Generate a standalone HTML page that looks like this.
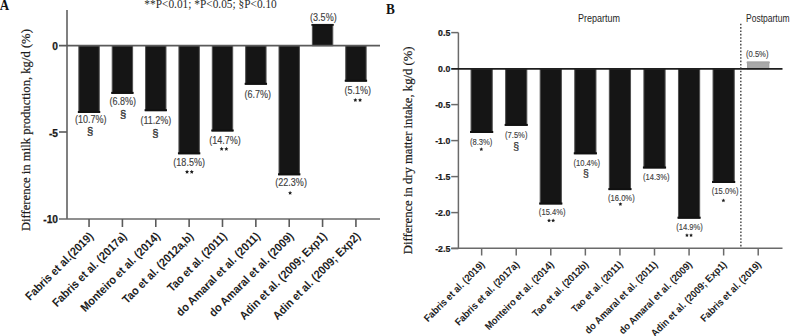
<!DOCTYPE html><html><head><meta charset="utf-8"><style>html,body{margin:0;padding:0;background:#fff;width:792px;height:336px;overflow:hidden}svg{display:block}.s{font-family:"Liberation Sans",sans-serif}.r{font-family:"Liberation Serif",serif}.b{font-weight:bold}</style></head><body>
<svg width="792" height="336" viewBox="0 0 792 336">
<text transform="translate(-0.2,9.6) scale(1,1.12)" class="r b" font-size="13" fill="#111">A</text>
<text transform="translate(144.3,8.2) scale(1,1.12)" x="0" y="0" class="r" font-size="11.4" textLength="132.5" lengthAdjust="spacingAndGlyphs" fill="#2a2a2a">**P&lt;0.01; *P&lt;0.05; §P&lt;0.10</text>
<text transform="translate(30,231.1) rotate(-90)" class="r" font-size="12.65" fill="#1a1a1a" stroke="#1a1a1a" stroke-width="0.2">Difference in milk production, kg/d (%)</text>
<rect x="78.85" y="45.70" width="20.4" height="66.80" fill="#151515" stroke="#505050" stroke-width="1"/><line x1="77.85" y1="112.00" x2="100.25" y2="112.00" stroke="#111" stroke-width="2"/>
<text transform="translate(90.65,123.10) scale(0.97,1.08)" text-anchor="middle" class="s" font-size="9.3" fill="#404040" stroke="#404040" stroke-width="0.12">(10.7%)</text>
<text x="90.05" y="135.40" text-anchor="middle" class="s" font-size="11.3" fill="#333" stroke="#333" stroke-width="0.3">§</text>
<rect x="112.21" y="45.70" width="20.4" height="47.70" fill="#151515" stroke="#505050" stroke-width="1"/><line x1="111.21" y1="92.90" x2="133.61" y2="92.90" stroke="#111" stroke-width="2"/>
<text transform="translate(122.81,105.40) scale(0.97,1.08)" text-anchor="middle" class="s" font-size="9.3" fill="#404040" stroke="#404040" stroke-width="0.12">(6.8%)</text>
<text x="123.11" y="117.50" text-anchor="middle" class="s" font-size="11.3" fill="#333" stroke="#333" stroke-width="0.3">§</text>
<rect x="145.57" y="45.70" width="20.4" height="65.00" fill="#151515" stroke="#505050" stroke-width="1"/><line x1="144.57" y1="110.20" x2="166.97" y2="110.20" stroke="#111" stroke-width="2"/>
<text transform="translate(155.87,123.80) scale(0.97,1.08)" text-anchor="middle" class="s" font-size="9.3" fill="#404040" stroke="#404040" stroke-width="0.12">(11.2%)</text>
<text x="155.47" y="137.00" text-anchor="middle" class="s" font-size="11.3" fill="#333" stroke="#333" stroke-width="0.3">§</text>
<rect x="178.93" y="45.70" width="20.4" height="108.10" fill="#151515" stroke="#505050" stroke-width="1"/><line x1="177.93" y1="153.30" x2="200.33" y2="153.30" stroke="#111" stroke-width="2"/>
<text transform="translate(189.13,166.40) scale(0.97,1.08)" text-anchor="middle" class="s" font-size="9.3" fill="#404040" stroke="#404040" stroke-width="0.12">(18.5%)</text>
<polygon points="187.05,169.75 187.68,171.03 189.09,171.24 188.07,172.23 188.31,173.64 187.05,172.97 185.79,173.64 186.03,172.23 185.01,171.24 186.42,171.03" fill="#1e1e1e"/><polygon points="191.75,169.75 192.38,171.03 193.79,171.24 192.77,172.23 193.01,173.64 191.75,172.97 190.49,173.64 190.73,172.23 189.71,171.24 191.12,171.03" fill="#1e1e1e"/>
<rect x="212.29" y="45.70" width="20.4" height="85.30" fill="#151515" stroke="#505050" stroke-width="1"/><line x1="211.29" y1="130.50" x2="233.69" y2="130.50" stroke="#111" stroke-width="2"/>
<text transform="translate(225.09,144.10) scale(0.97,1.08)" text-anchor="middle" class="s" font-size="9.3" fill="#404040" stroke="#404040" stroke-width="0.12">(14.7%)</text>
<polygon points="221.65,146.85 222.28,148.13 223.69,148.34 222.67,149.33 222.91,150.74 221.65,150.07 220.39,150.74 220.63,149.33 219.61,148.34 221.02,148.13" fill="#1e1e1e"/><polygon points="226.35,146.85 226.98,148.13 228.39,148.34 227.37,149.33 227.61,150.74 226.35,150.07 225.09,150.74 225.33,149.33 224.31,148.34 225.72,148.13" fill="#1e1e1e"/>
<rect x="245.65" y="45.70" width="20.4" height="38.60" fill="#151515" stroke="#505050" stroke-width="1"/><line x1="244.65" y1="83.80" x2="267.05" y2="83.80" stroke="#111" stroke-width="2"/>
<text transform="translate(257.75,97.90) scale(0.97,1.08)" text-anchor="middle" class="s" font-size="9.3" fill="#404040" stroke="#404040" stroke-width="0.12">(6.7%)</text>
<rect x="279.01" y="45.70" width="20.4" height="129.10" fill="#151515" stroke="#505050" stroke-width="1"/><line x1="278.01" y1="174.30" x2="300.41" y2="174.30" stroke="#111" stroke-width="2"/>
<text transform="translate(291.11,186.40) scale(0.97,1.08)" text-anchor="middle" class="s" font-size="9.3" fill="#404040" stroke="#404040" stroke-width="0.12">(22.3%)</text>
<polygon points="290.10,190.85 290.73,192.13 292.14,192.34 291.12,193.33 291.36,194.74 290.10,194.07 288.84,194.74 289.08,193.33 288.06,192.34 289.47,192.13" fill="#1e1e1e"/>
<rect x="312.37" y="24.40" width="20.4" height="21.30" fill="#151515" stroke="#505050" stroke-width="1"/><line x1="311.37" y1="24.90" x2="333.77" y2="24.90" stroke="#111" stroke-width="1.6"/>
<text transform="translate(323.37,21.00) scale(0.97,1.08)" text-anchor="middle" class="s" font-size="9.3" fill="#404040" stroke="#404040" stroke-width="0.12">(3.5%)</text>
<rect x="345.73" y="45.70" width="20.4" height="35.50" fill="#151515" stroke="#505050" stroke-width="1"/><line x1="344.73" y1="80.70" x2="367.13" y2="80.70" stroke="#111" stroke-width="2"/>
<text transform="translate(357.83,94.30) scale(0.97,1.08)" text-anchor="middle" class="s" font-size="9.3" fill="#404040" stroke="#404040" stroke-width="0.12">(5.1%)</text>
<polygon points="355.35,97.95 355.98,99.23 357.39,99.44 356.37,100.43 356.61,101.84 355.35,101.17 354.09,101.84 354.33,100.43 353.31,99.44 354.72,99.23" fill="#1e1e1e"/><polygon points="360.05,97.95 360.68,99.23 362.09,99.44 361.07,100.43 361.31,101.84 360.05,101.17 358.79,101.84 359.03,100.43 358.01,99.44 359.42,99.23" fill="#1e1e1e"/>
<line x1="67" y1="10" x2="67" y2="219" stroke="#6a6a6a" stroke-width="1.7"/>
<line x1="59" y1="45.7" x2="380" y2="45.7" stroke="#5a5a5a" stroke-width="1.7"/>
<line x1="59" y1="132.00" x2="67" y2="132.00" stroke="#5a5a5a" stroke-width="1.6"/>
<line x1="59" y1="219" x2="380" y2="219" stroke="#6a6a6a" stroke-width="1.7"/>
<text x="58" y="50.20" text-anchor="end" class="s b" font-size="10.2" fill="#1a1a1a" stroke="#1a1a1a" stroke-width="0.25">0</text>
<text x="58" y="136.50" text-anchor="end" class="s b" font-size="10.2" fill="#1a1a1a" stroke="#1a1a1a" stroke-width="0.25">-5</text>
<text x="58" y="222.80" text-anchor="end" class="s b" font-size="10.2" fill="#1a1a1a" stroke="#1a1a1a" stroke-width="0.25">-10</text>
<line x1="89.05" y1="219" x2="89.05" y2="227" stroke="#5a5a5a" stroke-width="1.6"/>
<text transform="translate(94.05,237) rotate(-45)" text-anchor="end" class="s b" font-size="11.7" textLength="90.44" lengthAdjust="spacingAndGlyphs" fill="#1e1e1e">Fabris et al.(2019)</text>
<line x1="122.41" y1="219" x2="122.41" y2="227" stroke="#5a5a5a" stroke-width="1.6"/>
<text transform="translate(127.41,237) rotate(-45)" text-anchor="end" class="s b" font-size="11.7" textLength="99.61" lengthAdjust="spacingAndGlyphs" fill="#1e1e1e">Fabris et al. (2017a)</text>
<line x1="155.77" y1="219" x2="155.77" y2="227" stroke="#5a5a5a" stroke-width="1.6"/>
<text transform="translate(160.77,237) rotate(-45)" text-anchor="end" class="s b" font-size="11.7" textLength="106.92" lengthAdjust="spacingAndGlyphs" fill="#1e1e1e">Monteiro et al. (2014)</text>
<line x1="189.13" y1="219" x2="189.13" y2="227" stroke="#5a5a5a" stroke-width="1.6"/>
<text transform="translate(194.13,237) rotate(-45)" text-anchor="end" class="s b" font-size="11.7" textLength="95.11" lengthAdjust="spacingAndGlyphs" fill="#1e1e1e">Tao et al. (2012a,b)</text>
<line x1="222.49" y1="219" x2="222.49" y2="227" stroke="#5a5a5a" stroke-width="1.6"/>
<text transform="translate(227.49,237) rotate(-45)" text-anchor="end" class="s b" font-size="11.7" textLength="78.61" lengthAdjust="spacingAndGlyphs" fill="#1e1e1e">Tao et al. (2011)</text>
<line x1="255.85" y1="219" x2="255.85" y2="227" stroke="#5a5a5a" stroke-width="1.6"/>
<text transform="translate(260.85,237) rotate(-45)" text-anchor="end" class="s b" font-size="11.7" textLength="113.27" lengthAdjust="spacingAndGlyphs" fill="#1e1e1e">do Amaral et al. (2011)</text>
<line x1="289.21" y1="219" x2="289.21" y2="227" stroke="#5a5a5a" stroke-width="1.6"/>
<text transform="translate(294.21,237) rotate(-45)" text-anchor="end" class="s b" font-size="11.7" textLength="113.86" lengthAdjust="spacingAndGlyphs" fill="#1e1e1e">do Amaral et al. (2009)</text>
<line x1="322.57" y1="219" x2="322.57" y2="227" stroke="#5a5a5a" stroke-width="1.6"/>
<text transform="translate(327.57,237) rotate(-45)" text-anchor="end" class="s b" font-size="11.7" textLength="117.94" lengthAdjust="spacingAndGlyphs" fill="#1e1e1e">Adin et al. (2009; Exp1)</text>
<line x1="355.93" y1="219" x2="355.93" y2="227" stroke="#5a5a5a" stroke-width="1.6"/>
<text transform="translate(360.93,237) rotate(-45)" text-anchor="end" class="s b" font-size="11.7" textLength="117.94" lengthAdjust="spacingAndGlyphs" fill="#1e1e1e">Adin et al. (2009; Exp2)</text>
<text transform="translate(386,13.6) scale(0.98,1.08)" class="r b" font-size="13.5" fill="#111">B</text>
<text transform="translate(412,254.2) rotate(-90)" class="r" font-size="12.68" fill="#1a1a1a" stroke="#1a1a1a" stroke-width="0.2">Difference in dry matter intake, kg/d (%)</text>
<text x="578" y="22.3" class="s" font-size="10.4" textLength="42" lengthAdjust="spacingAndGlyphs" fill="#262626">Prepartum</text>
<text x="746" y="22" class="s" font-size="10.4" textLength="43.5" lengthAdjust="spacingAndGlyphs" fill="#262626">Postpartum</text>
<rect x="471.05" y="68.90" width="21.2" height="63.60" fill="#151515" stroke="#505050" stroke-width="1"/><line x1="470.05" y1="132.00" x2="493.25" y2="132.00" stroke="#111" stroke-width="2"/>
<text transform="translate(481.15,144.63) scale(0.93,1.08)" text-anchor="middle" class="s" font-size="8.2" fill="#404040" stroke="#404040" stroke-width="0.12">(8.3%)</text>
<polygon points="481.30,147.25 481.90,148.47 483.25,148.67 482.27,149.62 482.50,150.96 481.30,150.33 480.10,150.96 480.33,149.62 479.35,148.67 480.70,148.47" fill="#1e1e1e"/>
<rect x="505.62" y="68.90" width="21.2" height="56.50" fill="#151515" stroke="#505050" stroke-width="1"/><line x1="504.62" y1="124.90" x2="527.82" y2="124.90" stroke="#111" stroke-width="2"/>
<text transform="translate(516.22,137.53) scale(0.93,1.08)" text-anchor="middle" class="s" font-size="8.2" fill="#404040" stroke="#404040" stroke-width="0.12">(7.5%)</text>
<text x="516.22" y="149.60" text-anchor="middle" class="s" font-size="10.5" fill="#333" stroke="#333" stroke-width="0.22">§</text>
<rect x="540.19" y="68.90" width="21.2" height="135.10" fill="#151515" stroke="#505050" stroke-width="1"/><line x1="539.19" y1="203.50" x2="562.39" y2="203.50" stroke="#111" stroke-width="2"/>
<text transform="translate(552.19,215.03) scale(0.93,1.08)" text-anchor="middle" class="s" font-size="8.2" fill="#404040" stroke="#404040" stroke-width="0.12">(15.4%)</text>
<polygon points="549.05,218.55 549.65,219.77 551.00,219.97 550.02,220.92 550.25,222.26 549.05,221.62 547.85,222.26 548.08,220.92 547.10,219.97 548.45,219.77" fill="#1e1e1e"/><polygon points="553.15,218.55 553.75,219.77 555.10,219.97 554.12,220.92 554.35,222.26 553.15,221.62 551.95,222.26 552.18,220.92 551.20,219.97 552.55,219.77" fill="#1e1e1e"/>
<rect x="574.76" y="68.90" width="21.2" height="84.90" fill="#151515" stroke="#505050" stroke-width="1"/><line x1="573.76" y1="153.30" x2="596.96" y2="153.30" stroke="#111" stroke-width="2"/>
<text transform="translate(586.76,165.93) scale(0.93,1.08)" text-anchor="middle" class="s" font-size="8.2" fill="#404040" stroke="#404040" stroke-width="0.12">(10.4%)</text>
<text x="585.86" y="177.10" text-anchor="middle" class="s" font-size="10.5" fill="#333" stroke="#333" stroke-width="0.22">§</text>
<rect x="609.33" y="68.90" width="21.2" height="120.70" fill="#151515" stroke="#505050" stroke-width="1"/><line x1="608.33" y1="189.10" x2="631.53" y2="189.10" stroke="#111" stroke-width="2"/>
<text transform="translate(621.33,201.03) scale(0.93,1.08)" text-anchor="middle" class="s" font-size="8.2" fill="#404040" stroke="#404040" stroke-width="0.12">(16.0%)</text>
<polygon points="620.40,202.15 621.00,203.37 622.35,203.57 621.37,204.52 621.60,205.86 620.40,205.22 619.20,205.86 619.43,204.52 618.45,203.57 619.80,203.37" fill="#1e1e1e"/>
<rect x="643.90" y="68.90" width="21.2" height="99.10" fill="#151515" stroke="#505050" stroke-width="1"/><line x1="642.90" y1="167.50" x2="666.10" y2="167.50" stroke="#111" stroke-width="2"/>
<text transform="translate(656.30,180.13) scale(0.93,1.08)" text-anchor="middle" class="s" font-size="8.2" fill="#404040" stroke="#404040" stroke-width="0.12">(14.3%)</text>
<rect x="678.47" y="68.90" width="21.2" height="149.30" fill="#151515" stroke="#505050" stroke-width="1"/><line x1="677.47" y1="217.70" x2="700.67" y2="217.70" stroke="#111" stroke-width="2"/>
<text transform="translate(689.57,229.63) scale(0.93,1.08)" text-anchor="middle" class="s" font-size="8.2" fill="#404040" stroke="#404040" stroke-width="0.12">(14.9%)</text>
<polygon points="686.95,233.25 687.55,234.47 688.90,234.67 687.92,235.62 688.15,236.96 686.95,236.33 685.75,236.96 685.98,235.62 685.00,234.67 686.35,234.47" fill="#1e1e1e"/><polygon points="691.05,233.25 691.65,234.47 693.00,234.67 692.02,235.62 692.25,236.96 691.05,236.33 689.85,236.96 690.08,235.62 689.10,234.67 690.45,234.47" fill="#1e1e1e"/>
<rect x="713.04" y="68.90" width="21.2" height="113.60" fill="#151515" stroke="#505050" stroke-width="1"/><line x1="712.04" y1="182.00" x2="735.24" y2="182.00" stroke="#111" stroke-width="2"/>
<text transform="translate(725.14,194.23) scale(0.93,1.08)" text-anchor="middle" class="s" font-size="8.2" fill="#404040" stroke="#404040" stroke-width="0.12">(15.0%)</text>
<polygon points="723.40,198.45 724.00,199.67 725.35,199.87 724.37,200.82 724.60,202.16 723.40,201.53 722.20,202.16 722.43,200.82 721.45,199.87 722.80,199.67" fill="#1e1e1e"/>
<rect x="747.61" y="62.00" width="21.2" height="6.90" fill="#a9a9a9" stroke="#9c9c9c" stroke-width="1"/><line x1="746.61" y1="62.50" x2="769.81" y2="62.50" stroke="#a4a4a4" stroke-width="1.6"/>
<text transform="translate(757.21,57.33) scale(0.93,1.08)" text-anchor="middle" class="s" font-size="8.2" fill="#404040" stroke="#404040" stroke-width="0.12">(0.5%)</text>
<line x1="458.4" y1="32.6" x2="458.4" y2="248.3" stroke="#6a6a6a" stroke-width="1.5"/>
<line x1="451.2" y1="68.9" x2="782.5" y2="68.9" stroke="#1e1e1e" stroke-width="1.7"/>
<line x1="451.2" y1="32.60" x2="458.4" y2="32.60" stroke="#6a6a6a" stroke-width="1.5"/>
<text x="450.3" y="36.00" text-anchor="end" class="s b" font-size="8.8" fill="#1a1a1a" stroke="#1a1a1a" stroke-width="0.2">0.5</text>
<text x="450.3" y="72.00" text-anchor="end" class="s b" font-size="8.8" fill="#1a1a1a" stroke="#1a1a1a" stroke-width="0.2">0.0</text>
<line x1="451.2" y1="104.60" x2="458.4" y2="104.60" stroke="#6a6a6a" stroke-width="1.5"/>
<text x="450.3" y="108.00" text-anchor="end" class="s b" font-size="8.8" fill="#1a1a1a" stroke="#1a1a1a" stroke-width="0.2">-0.5</text>
<line x1="451.2" y1="140.60" x2="458.4" y2="140.60" stroke="#6a6a6a" stroke-width="1.5"/>
<text x="450.3" y="144.00" text-anchor="end" class="s b" font-size="8.8" fill="#1a1a1a" stroke="#1a1a1a" stroke-width="0.2">-1.0</text>
<line x1="451.2" y1="176.60" x2="458.4" y2="176.60" stroke="#6a6a6a" stroke-width="1.5"/>
<text x="450.3" y="180.00" text-anchor="end" class="s b" font-size="8.8" fill="#1a1a1a" stroke="#1a1a1a" stroke-width="0.2">-1.5</text>
<line x1="451.2" y1="212.60" x2="458.4" y2="212.60" stroke="#6a6a6a" stroke-width="1.5"/>
<text x="450.3" y="216.00" text-anchor="end" class="s b" font-size="8.8" fill="#1a1a1a" stroke="#1a1a1a" stroke-width="0.2">-2.0</text>
<line x1="451.2" y1="248.60" x2="458.4" y2="248.60" stroke="#6a6a6a" stroke-width="1.5"/>
<text x="450.3" y="252.00" text-anchor="end" class="s b" font-size="8.8" fill="#1a1a1a" stroke="#1a1a1a" stroke-width="0.2">-2.5</text>
<line x1="451.2" y1="248.3" x2="782.5" y2="248.3" stroke="#6a6a6a" stroke-width="1.5"/>
<line x1="740.8" y1="22.5" x2="740.9" y2="248.3" stroke="#333" stroke-width="1.3" stroke-dasharray="1.6,1.75" stroke-dashoffset="2.11"/>
<line x1="481.65" y1="248.3" x2="481.65" y2="255.5" stroke="#6a6a6a" stroke-width="1.5"/>
<text transform="translate(485.25,265.2) rotate(-45)" text-anchor="end" class="s b" font-size="10.1" textLength="80.91" lengthAdjust="spacingAndGlyphs" fill="#1e1e1e">Fabris et al. (2019)</text>
<line x1="516.22" y1="248.3" x2="516.22" y2="255.5" stroke="#6a6a6a" stroke-width="1.5"/>
<text transform="translate(519.82,265.2) rotate(-45)" text-anchor="end" class="s b" font-size="10.1" textLength="86.19" lengthAdjust="spacingAndGlyphs" fill="#1e1e1e">Fabris et al. (2017a)</text>
<line x1="550.79" y1="248.3" x2="550.79" y2="255.5" stroke="#6a6a6a" stroke-width="1.5"/>
<text transform="translate(554.39,265.2) rotate(-45)" text-anchor="end" class="s b" font-size="10.1" textLength="92.50" lengthAdjust="spacingAndGlyphs" fill="#1e1e1e">Monteiro et al. (2014)</text>
<line x1="585.36" y1="248.3" x2="585.36" y2="255.5" stroke="#6a6a6a" stroke-width="1.5"/>
<text transform="translate(588.96,265.2) rotate(-45)" text-anchor="end" class="s b" font-size="10.1" textLength="74.39" lengthAdjust="spacingAndGlyphs" fill="#1e1e1e">Tao et al. (2012b)</text>
<line x1="619.93" y1="248.3" x2="619.93" y2="255.5" stroke="#6a6a6a" stroke-width="1.5"/>
<text transform="translate(623.53,265.2) rotate(-45)" text-anchor="end" class="s b" font-size="10.1" textLength="68.06" lengthAdjust="spacingAndGlyphs" fill="#1e1e1e">Tao et al. (2011)</text>
<line x1="654.50" y1="248.3" x2="654.50" y2="255.5" stroke="#6a6a6a" stroke-width="1.5"/>
<text transform="translate(658.10,265.2) rotate(-45)" text-anchor="end" class="s b" font-size="10.1" textLength="97.97" lengthAdjust="spacingAndGlyphs" fill="#1e1e1e">do Amaral et al. (2011)</text>
<line x1="689.07" y1="248.3" x2="689.07" y2="255.5" stroke="#6a6a6a" stroke-width="1.5"/>
<text transform="translate(692.67,265.2) rotate(-45)" text-anchor="end" class="s b" font-size="10.1" textLength="98.50" lengthAdjust="spacingAndGlyphs" fill="#1e1e1e">do Amaral et al. (2009)</text>
<line x1="723.64" y1="248.3" x2="723.64" y2="255.5" stroke="#6a6a6a" stroke-width="1.5"/>
<text transform="translate(727.24,265.2) rotate(-45)" text-anchor="end" class="s b" font-size="10.1" textLength="102.02" lengthAdjust="spacingAndGlyphs" fill="#1e1e1e">Adin et al. (2009; Exp1)</text>
<line x1="758.21" y1="248.3" x2="758.21" y2="255.5" stroke="#6a6a6a" stroke-width="1.5"/>
<text transform="translate(761.81,265.2) rotate(-45)" text-anchor="end" class="s b" font-size="10.1" textLength="80.91" lengthAdjust="spacingAndGlyphs" fill="#1e1e1e">Fabris et al. (2019)</text>
</svg></body></html>
